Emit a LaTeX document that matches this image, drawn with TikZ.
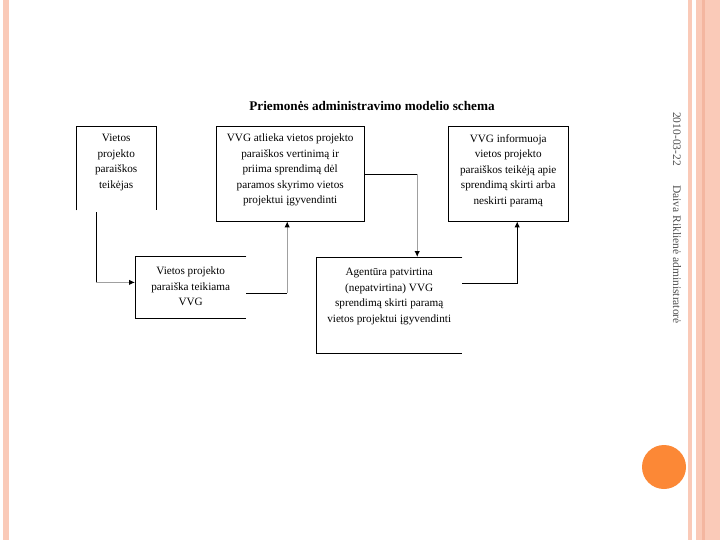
\documentclass[tikz,border=0pt]{standalone}
\usepackage{fontspec}
\setmainfont{Liberation Serif}
\usepackage{xcolor}
\usetikzlibrary{arrows.meta,positioning,calc}

\definecolor{slidepink}{RGB}{250,202,184}
\definecolor{slidedark}{RGB}{244,182,160}
\definecolor{dotorange}{RGB}{252,136,54}
\definecolor{softgray}{RGB}{160,160,160}
\definecolor{sidegray}{RGB}{80,80,80}

\begin{document}
\begin{tikzpicture}[
    x=1pt, y=-1pt,
    slot/.style 2 args={rectangle, inner sep=0pt, minimum width=#1, minimum height=#2, anchor=north west},
    txt/.style={font=\fontsize{11.2}{15.5}\selectfont, align=center, inner sep=0pt},
    outline/.style={draw=black, line width=1pt},
    wire/.style={line width=1pt, draw=black},
    soft/.style={draw=softgray},
    arr/.style={-{Latex[length=6pt, width=5.5pt, color=black]}},
    side/.style={font=\fontsize{11.5}{13}\selectfont, text=sidegray, inner sep=0pt, rotate=-90, anchor=west},
]
\useasboundingbox (0,0) rectangle (720,540);
\fill[white] (0,0) rectangle (720,540);

% slide frame
\fill[slidepink] (3,0) rectangle (9,540);
\fill[slidepink] (688,0) rectangle (692,540);
\fill[slidepink] (696,0) rectangle (720,540);
\fill[slidedark] (702,0) rectangle (705,540);
\fill[dotorange] (664,467) circle (22);

\node[side] (date) at (677,112) {2010-03-22};
\node[side] (author) at (677,185) {Daiva Riklienė administratorė};

\node[font=\bfseries\fontsize{13.2}{15}\selectfont] (title) at (372,106) {Priemonės administravimo modelio schema};

% boxes
\node[slot={80pt}{83pt}] (teik) at (76,127) {};
\node[slot={148pt}{94pt}] (atl) at (216,127) {};
\node[slot={120pt}{94pt}] (info) at (448,127) {};
\node[slot={111pt}{62pt}] (pateik) at (135,256) {};
\node[slot={146pt}{96pt}] (agent) at (316,257) {};

\draw[outline] (teik.south west) -- (teik.north west) -- (teik.north east) -- (teik.south east);
\draw[outline] (atl.south west) rectangle (atl.north east);
\draw[outline] (info.south west) rectangle (info.north east);
\draw[outline] (pateik.north east) -- (pateik.north west) -- (pateik.south west) -- (pateik.south east);
\draw[outline] (agent.north east) -- (agent.north west) -- (agent.south west) -- (agent.south east);

\node[txt, below=7pt of teik.north] (teik-t) {Vietos\\projekto\\paraiškos\\teikėjas};
\node[txt, below=7pt of atl.north] (atl-t) {VVG atlieka vietos projekto\\paraiškos vertinimą ir\\priima sprendimą dėl\\paramos skyrimo vietos\\projektui įgyvendinti};
\node[txt, below=7pt of info.north] (info-t) {VVG informuoja\\vietos projekto\\paraiškos teikėją apie\\sprendimą skirti arba\\neskirti paramą};
\node[txt, below=11pt of pateik.north] (pateik-t) {Vietos projekto\\paraiška teikiama\\VVG};
\node[txt, below=11pt of agent.north] (agent-t) {Agentūra patvirtina\\(nepatvirtina) VVG\\sprendimą skirti paramą\\vietos projektui įgyvendinti};

% connectors
\draw[wire] ([xshift=20pt, yshift=-2pt]teik.south west) -- ++(0,70) coordinate (k1);
\draw[wire, soft, arr] (k1) -- (k1 -| pateik.west);

\coordinate (k2) at ([xshift=-3pt]atl.south);
\draw[wire] ([yshift=-6pt]pateik.east) -- ([yshift=-6pt]pateik.east -| k2) coordinate (k3);
\draw[wire, soft, arr] (k3) -- (k2);

\coordinate (k4) at ([xshift=28pt]agent.north);
\draw[wire] (atl.east) -- (atl.east -| k4) coordinate (k5);
\draw[wire, soft, arr] (k5) -- (k4);

\coordinate (k6) at ([xshift=9pt]info.south);
\draw[wire, arr] ([yshift=22pt]agent.east) -| (k6);
\end{tikzpicture}
\end{document}
